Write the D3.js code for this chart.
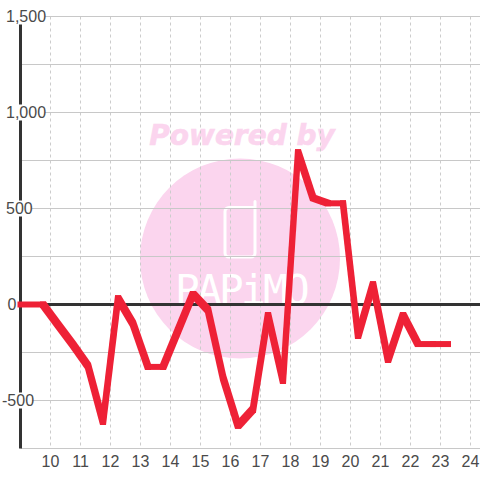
<!DOCTYPE html>
<html>
<head>
<meta charset="utf-8">
<script src="https://d3js.org/d3.v7.min.js"></script>
<style>
  html, body { margin: 0; padding: 0; background: #fff; }
  text { font-family: "Liberation Sans", sans-serif; }
</style>
</head>
<body>
<div id="chart"></div>
<script>
// half hour readings
var hours = [9, 9.75, 10.25, 10.75, 11.25, 11.75, 12.25, 12.75, 13.25, 13.75, 14.25, 14.75, 15.25, 15.75,
  16.25, 16.75, 17.25, 17.75, 18.25, 18.75, 19.25, 19.75, 20.25, 20.75, 21.25, 21.75, 22.25, 22.75, 23.25];
var values = [0, 0, -105, -210, -320, -612, 32, -100, -325, -325, -135, 55, -28, -380,
  -631, -545, -55, -398, 793, 555, 527, 527, -164, 105, -289, -55, -206, -206, -206];
var yTicks = [-750, -500, -250, 0, 250, 500, 750, 1000, 1250, 1500];
var yLabels = [-500, 0, 500, 1000, 1500];
var xTicks = [10, 11, 12, 13, 14, 15, 16, 17, 18, 19, 20, 21, 22, 23, 24];

var width = 480, height = 480;

var svg = d3.select("#chart")
  .append("svg")
    .attr("width", width)
    .attr("height", height)
    .style("display", "block");

var x = d3.scaleLinear().domain([9, 24]).range([20.5, 470.5]);
var y = d3.scaleLinear().domain([-750, 1500]).range([448.5, 16.5]);

// watermark
var mark = svg.append("g");
mark.append("circle")
  .attr("cx", 240).attr("cy", 258.5).attr("r", 100)
  .attr("fill", "#fbd5ee");
mark.append("text")
  .attr("x", 242).attr("y", 145)
  .attr("text-anchor", "middle")
  .style("font-family", "'DejaVu Sans'")
  .style("font-weight", "bold")
  .style("font-style", "italic")
  .style("font-size", "28px")
  .attr("fill", "#fbd5ee")
  .attr("stroke", "#fbd5ee")
  .attr("stroke-width", 0.6)
  .text("Powered by");
mark.append("path")
  .attr("d", "M229 207.5H255V201.5M255 201.5V253a4 4 0 0 1 -4 4H229a4 4 0 0 1 -4 -4V211.5a4 4 0 0 1 4 -4")
  .attr("fill", "none")
  .attr("stroke", "#fff")
  .attr("stroke-linecap", "round")
  .attr("stroke-width", 3);
mark.append("text")
  .attr("x", 241).attr("y", 304)
  .attr("text-anchor", "middle")
  .style("font-family", "'DejaVu Sans Mono'")
  .style("font-size", "41px")
  .style("letter-spacing", "-2.7px")
  .attr("fill", "#fff")
  .text("PAPiMO");

// grid
svg.append("g").selectAll("line")
  .data(xTicks)
  .join("line")
    .attr("x1", function(d) { return x(d); })
    .attr("x2", function(d) { return x(d); })
    .attr("y1", y(1500))
    .attr("y2", y(-750))
    .attr("stroke", "#ccc")
    .attr("stroke-dasharray", "3,3");

svg.append("g").selectAll("line")
  .data(yTicks)
  .join("line")
    .attr("x1", x(9))
    .attr("x2", width)
    .attr("y1", function(d) { return y(d); })
    .attr("y2", function(d) { return y(d); })
    .attr("stroke", "#c8c8c8");

// axis lines
svg.append("line")
  .attr("x1", x(9)).attr("x2", x(9))
  .attr("y1", y(-750)).attr("y2", y(1500))
  .attr("stroke", "#333").attr("stroke-width", 3);
svg.append("line")
  .attr("x1", x(9)).attr("x2", width)
  .attr("y1", y(0)).attr("y2", y(0))
  .attr("stroke", "#333").attr("stroke-width", 3);

// y labels sit on white boxes which cut the axis
var fmt = d3.format(",");
var yLabel = svg.append("g").selectAll("g")
  .data(yLabels)
  .join("g")
    .attr("transform", function(d) { return "translate(0," + y(d) + ")"; });
yLabel.append("rect")
  .attr("x", 0)
  .attr("y", -8)
  .attr("width", function(d) { return Math.abs(d) >= 1000 ? 45 : (d === 0 ? 0 : 32); })
  .attr("height", 16)
  .attr("fill", "#fff");
yLabel.append("text")
  .attr("x", function(d) { return d < 0 ? 2 : (d === 0 ? 7.5 : 6); })
  .attr("dy", "0.35em")
  .style("font-size", "16px")
  .attr("fill", "#4a4a4a")
  .text(function(d) { return fmt(d).replace("\u2212", "-"); });

// x labels
svg.append("g").selectAll("text")
  .data(xTicks)
  .join("text")
    .attr("x", function(d) { return x(d); })
    .attr("y", 466.5)
    .attr("text-anchor", "middle")
    .style("font-size", "16px")
    .attr("fill", "#4a4a4a")
    .text(function(d) { return d; });

// the line is drawn with a square pen, so each segment is the hull of two squares
var pen = 3;
function corners(i) {
  var px = x(hours[i]), py = y(values[i]);
  return [[px - pen, py - pen], [px + pen, py - pen], [px + pen, py + pen], [px - pen, py + pen]];
}
svg.append("g").selectAll("path")
  .data(d3.range(hours.length - 1))
  .join("path")
    .attr("fill", "#ee2136")
    .attr("d", function(i) {
      return "M" + d3.polygonHull(corners(i).concat(corners(i + 1))).join("L") + "Z";
    });
</script>
</body>
</html>
